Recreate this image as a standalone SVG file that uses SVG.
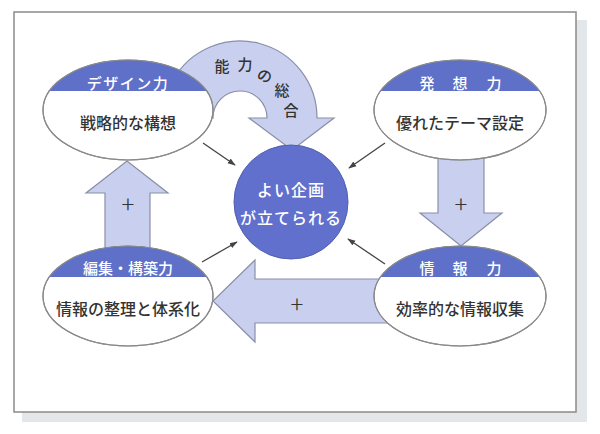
<svg xmlns="http://www.w3.org/2000/svg" width="600" height="434" viewBox="0 0 600 434">
<style>
text{font-family:"Noto Sans CJK JP","Noto Sans CJK SC",sans-serif;}
.big{fill:#c9d0ef;stroke:#8a8fa8;stroke-width:1.2;}
.ell{fill:#fff;stroke:#8a8a8a;stroke-width:1.2;}
.cap{fill:#5f70c8;}
.hd{fill:#fff;font-size:15px;font-weight:500;text-anchor:middle;dominant-baseline:central;}
.bd{fill:#333;font-size:16px;font-weight:500;text-anchor:middle;dominant-baseline:central;}
.ct{fill:#fff;font-size:16px;font-weight:500;text-anchor:middle;dominant-baseline:central;letter-spacing:1px;}
.arc{fill:#333;font-size:15px;font-weight:500;text-anchor:middle;dominant-baseline:central;}
.plus{fill:#333;font-size:24px;font-weight:300;text-anchor:middle;dominant-baseline:central;}
.thin{stroke:#444;stroke-width:1.3;fill:none;marker-end:url(#ah);}
</style>
<defs>
<marker id="ah" viewBox="0 0 10 10" refX="9" refY="5" markerWidth="8" markerHeight="8" markerUnits="userSpaceOnUse" orient="auto">
<path d="M0,1.5 L10,5 L0,8.5 Z" fill="#444"/>
</marker>
<clipPath id="cl85"><ellipse rx="85" ry="50"/></clipPath>
<clipPath id="cl86"><ellipse rx="86" ry="50"/></clipPath>
</defs>
<rect x="22" y="20" width="565" height="402" fill="#e4e7ea"/>
<rect x="14" y="12" width="562" height="400" fill="#fff" stroke="#8a8a8a" stroke-width="1.5"/>

<g id="big-arrows">
<path class="big" d="M173,80 A77,77 0 0 1 317,118 L334,118 L292,150 L249,118 L267,118 A27,27 0 0 0 213,118 L200,110 Z"/>
<polygon class="big" points="105,260 105,193 86,193 127,161 168,193 150,193 150,260"/>
<polygon class="big" points="438,150 438,213 420,213 461,246 502,213 484,213 484,150"/>
<polygon class="big" points="400,279 255,279 255,260 213,301 255,342 255,323 400,323"/>
<text class="arc" x="222" y="65">能</text>
<text class="arc" x="245" y="63">力</text>
<text class="arc" x="265" y="75" transform="rotate(20 265 75)">の</text>
<text class="arc" x="282" y="89">総</text>
<text class="arc" x="291" y="109">合</text>
<text class="plus" x="128" y="202">+</text>
<text class="plus" x="461" y="202">+</text>
<text class="plus" x="297" y="302">+</text>
</g>

<g id="node-design" transform="translate(128,110)">
<ellipse class="ell" rx="85" ry="50"/>
<rect class="cap" x="-86" y="-51" width="172" height="32" clip-path="url(#cl85)"/>
<ellipse rx="85" ry="50" fill="none" stroke="#8a8a8a" stroke-width="1.2"/>
<text class="hd" y="-28" letter-spacing="1.5">デザイン力</text>
<text class="bd" y="12">戦略的な構想</text>
</g>

<g id="node-idea" transform="translate(460,110)">
<ellipse class="ell" rx="86" ry="50"/>
<rect class="cap" x="-87" y="-51" width="174" height="32" clip-path="url(#cl86)"/>
<ellipse rx="86" ry="50" fill="none" stroke="#8a8a8a" stroke-width="1.2"/>
<text class="hd" x="-33 0 34" y="-28">発想力</text>
<text class="bd" y="12">優れたテーマ設定</text>
</g>

<g id="node-edit" transform="translate(128,296)">
<ellipse class="ell" rx="85" ry="50"/>
<rect class="cap" x="-86" y="-51" width="172" height="32" clip-path="url(#cl85)"/>
<ellipse rx="85" ry="50" fill="none" stroke="#8a8a8a" stroke-width="1.2"/>
<text class="hd" y="-29">編集・構築力</text>
<text class="bd" y="12">情報の整理と体系化</text>
</g>

<g id="node-info" transform="translate(460,296)">
<ellipse class="ell" rx="86" ry="50"/>
<rect class="cap" x="-87" y="-51" width="174" height="32" clip-path="url(#cl86)"/>
<ellipse rx="86" ry="50" fill="none" stroke="#8a8a8a" stroke-width="1.2"/>
<text class="hd" x="-33 0 34" y="-29">情報力</text>
<text class="bd" y="12">効率的な情報収集</text>
</g>

<g id="node-center">
<circle cx="291" cy="202" r="57" fill="#6070cc" stroke="#5060b0" stroke-width="1"/>
<text class="ct" x="291" y="189">よい企画</text>
<text class="ct" x="291" y="217">が立てられる</text>
</g>

<g id="connectors">
<line class="thin" x1="203" y1="143" x2="235" y2="165"/>
<line class="thin" x1="385" y1="143" x2="349" y2="168"/>
<line class="thin" x1="202" y1="262" x2="237" y2="242"/>
<line class="thin" x1="385" y1="264" x2="348" y2="239"/>
</g>
</svg>
